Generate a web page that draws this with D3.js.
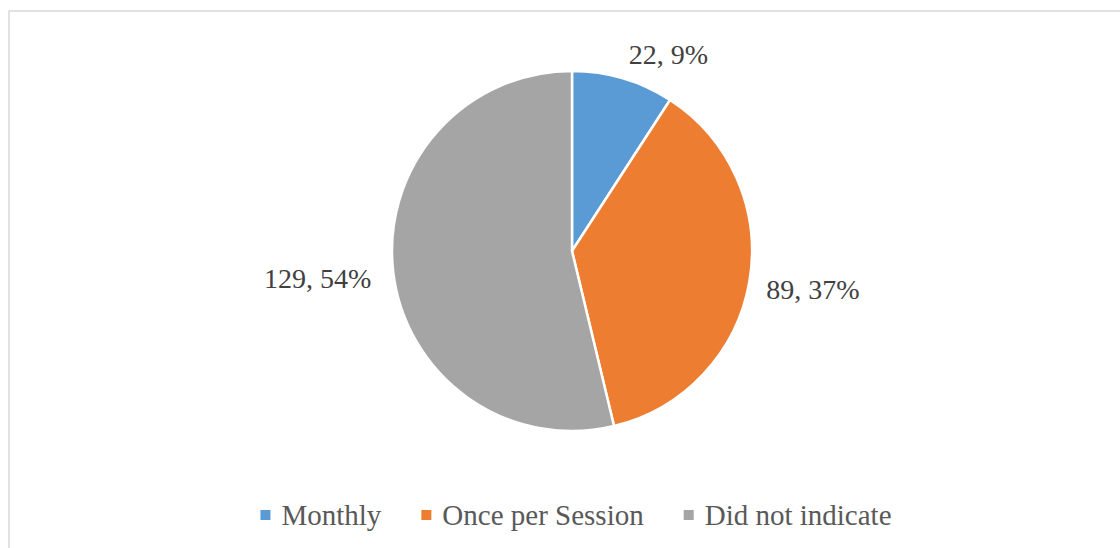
<!DOCTYPE html>
<html>
<head>
<meta charset="utf-8">
<script src="https://cdn.jsdelivr.net/npm/d3@7"></script>
<style>
  html, body { margin: 0; padding: 0; background: #fff; }
</style>
</head>
<body>
<div id="pie"></div>
<script>
// Data ----------------------------
var categories = ['Monthly', 'Once per Session', 'Did not indicate'];
var counts = [22, 89, 129];
var colors = ['#5B9BD5', '#ED7D31', '#A5A5A5'];

// Display attributes --------------
var width = 1120, height = 548;
var cx = 572, cy = 251, radius = 180;
var labelSize = 28, legendSize = 29;
var serif = '"Liberation Serif"';

var svg = d3.select('#pie')
    .append('svg')
    .attr('width', width)
    .attr('height', height);

// chart frame (runs off the right/bottom edge)
svg.append('rect')
    .attr('x', 9).attr('y', 11)
    .attr('width', width + 20).attr('height', height + 20)
    .attr('fill', 'none')
    .attr('stroke', '#d9d9d9')
    .attr('stroke-width', 1.5);

var total = d3.sum(counts);
var data = categories.map(function(c, i){ return {name: c, value: counts[i], color: colors[i]}; });

var pie = d3.pie().sort(null).value(function(d){ return d.value; });
var arc = d3.arc().innerRadius(0).outerRadius(radius);
var labelArc = d3.arc().innerRadius(radius + 16).outerRadius(radius + 16);

var g = svg.append('g').attr('transform', 'translate(' + cx + ',' + cy + ')');

var arcs = pie(data);

g.selectAll('path')
    .data(arcs)
    .enter().append('path')
    .attr('d', arc)
    .attr('fill', function(d){ return d.data.color; })
    .attr('stroke', '#fff')
    .attr('stroke-width', 2.5)
    .attr('stroke-linejoin', 'round');

// data labels "value, pct"
g.selectAll('text.lbl')
    .data(arcs)
    .enter().append('text')
    .attr('class', 'lbl')
    .style('font-family', serif)
    .attr('font-size', labelSize)
    .attr('fill', '#404040')
    .attr('dominant-baseline', 'central')
    .attr('text-anchor', function(d){
        var a = (d.startAngle + d.endAngle) / 2;
        return Math.sin(a) >= 0 ? 'start' : 'end';
    })
    .attr('x', function(d){
        var a = (d.startAngle + d.endAngle) / 2;
        var p = labelArc.centroid(d);
        return Math.sin(a) >= 0 ? p[0] + 1 : p[0] - 6;
    })
    .attr('y', function(d){
        var a = (d.startAngle + d.endAngle) / 2;
        var p = labelArc.centroid(d);
        return p[1] - Math.cos(a) * 12 + 3;
    })
    .text(function(d){
        return d.data.value + ', ' + Math.round(d.data.value / total * 100) + '%';
    });

// legend -------------------------
var legend = svg.append('g');
var sq = 10, gapText = 11, gapItem = 40;
var x = 0;
data.forEach(function(d){
    var item = legend.append('g').attr('transform', 'translate(' + x + ',0)');
    item.append('rect')
        .attr('x', 0).attr('y', -15)
        .attr('width', sq).attr('height', sq)
        .attr('fill', d.color);
    var t = item.append('text')
        .attr('x', sq + gapText)
        .attr('y', 0)
        .style('font-family', serif)
        .attr('font-size', legendSize)
        .attr('fill', '#595959')
        .text(d.name);
    x += sq + gapText + t.node().getComputedTextLength() + gapItem;
});
var legendW = x - gapItem;
legend.attr('transform', 'translate(' + (576 - legendW / 2) + ',525)');
</script>
</body>
</html>
